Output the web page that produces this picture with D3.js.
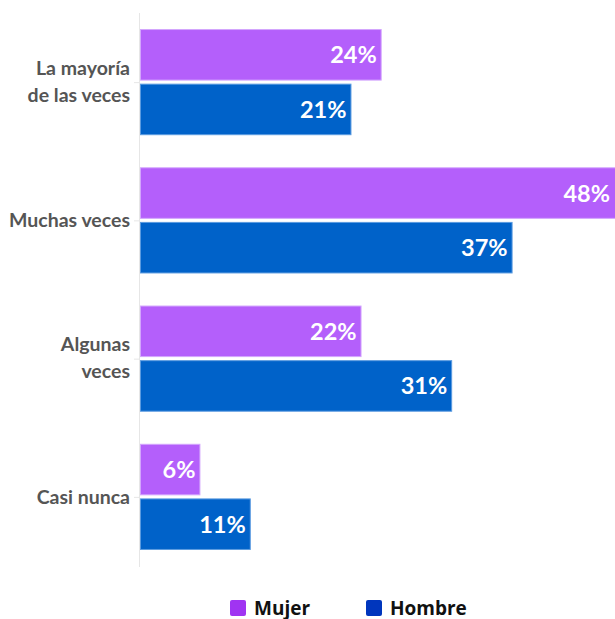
<!DOCTYPE html>
<html>
<head>
<meta charset="utf-8">
<script src="https://cdn.jsdelivr.net/npm/d3@7"></script>
<style>
  body { margin: 0; background: #fff; }
  svg { display: block; }
</style>
</head>
<body>
<div id="chart"></div>
<script>
    // chart data
    var categories = [['La mayoría', 'de las veces'], ['Muchas veces'], ['Algunas', 'veces'], ['Casi nunca']];
    var seriesNames = ['Mujer', 'Hombre'];
    var mujer = [24, 48, 22, 6];
    var hombre = [21, 37, 31, 11];
    var barColors = ['#b45ffb', '#0062c9'];
    var legendColors = ['#a034f2', '#0036bd'];

    var width = 615, height = 619;
    var left = 140;

    var svg = d3.select('#chart')
        .append('svg')
        .attr('width', width)
        .attr('height', height);

    var y = d3.scaleBand()
        .domain(d3.range(categories.length))
        .range([13, 566])
        .paddingInner(0.232)
        .paddingOuter(0.116);

    var ySub = d3.scaleBand()
        .domain(seriesNames)
        .range([0, y.bandwidth()])
        .paddingInner(0.056);

    var x = d3.scaleLinear()
        .domain([0, 1])
        .range([left, left + 10.07]);

    // axis line
    svg.append('line')
        .attr('x1', 139.5).attr('x2', 139.5)
        .attr('y1', 13).attr('y2', 567)
        .attr('stroke', '#e6e6e6')
        .attr('stroke-width', 1);

    // small ticks at category centers
    svg.selectAll('.tick')
        .data(categories)
        .enter()
        .append('line')
        .attr('x1', 134).attr('x2', 139)
        .attr('y1', function (d, i) { return y(i) + y.bandwidth() / 2 + 0.5; })
        .attr('y2', function (d, i) { return y(i) + y.bandwidth() / 2 + 0.5; })
        .attr('stroke', '#e6e6e6');

    var rows = [];
    categories.forEach(function (c, i) {
        rows.push({ cat: i, s: 0, v: mujer[i] });
        rows.push({ cat: i, s: 1, v: hombre[i] });
    });

    var bars = svg.selectAll('.bar')
        .data(rows)
        .enter()
        .append('g')
        .attr('class', 'bar');

    bars.append('rect')
        .attr('x', x(0) + 0.5)
        .attr('y', function (d) { return y(d.cat) + ySub(seriesNames[d.s]) + 0.5; })
        .attr('width', function (d) { return x(d.v) - x(0) - 1; })
        .attr('height', ySub.bandwidth() - 1)
        .attr('fill', function (d) { return barColors[d.s]; })
        .attr('stroke', function (d) { return d.s === 0 ? '#d3a6fd' : '#5b9be0'; })
        .attr('stroke-width', 1);

    bars.append('text')
        .attr('x', function (d) { return Math.min(x(d.v), width) - 5; })
        .attr('y', function (d) { return y(d.cat) + ySub(seriesNames[d.s]) + ySub.bandwidth() / 2; })
        .attr('dy', '0.36em')
        .attr('text-anchor', 'end')
        .attr('fill', '#fff')
        .attr('font-family', 'Lato, sans-serif')
        .attr('font-weight', 'bold')
        .attr('font-size', '23.5px')
        .text(function (d) { return d.v + '%'; });

    // category labels
    var labels = svg.selectAll('.cat')
        .data(categories)
        .enter()
        .append('text')
        .attr('class', 'cat')
        .attr('text-anchor', 'end')
        .attr('fill', '#555')
        .attr('font-family', 'Lato, sans-serif')
        .attr('font-weight', 'bold')
        .attr('font-size', '19.5px')
        .attr('transform', function (d, i) {
            var cy = y(i) + y.bandwidth() / 2;
            return 'translate(130,' + (cy - (d.length - 1) * 14) + ')';
        });

    labels.selectAll('tspan')
        .data(function (d) { return d; })
        .enter()
        .append('tspan')
        .attr('x', 0)
        .attr('dy', function (d, i) { return i === 0 ? '0.35em' : '27px'; })
        .text(function (d) { return d; });

    // legend
    var legendX = [230, 366];
    var legend = svg.selectAll('.legend')
        .data(seriesNames)
        .enter()
        .append('g')
        .attr('class', 'legend')
        .attr('transform', function (d, i) { return 'translate(' + legendX[i] + ',600)'; });

    legend.append('rect')
        .attr('width', 16).attr('height', 16)
        .attr('rx', 2)
        .attr('fill', function (d, i) { return legendColors[i]; });

    legend.append('text')
        .attr('x', 24)
        .attr('y', 8)
        .attr('dy', '0.36em')
        .attr('fill', '#111')
        .attr('font-family', '"Open Sans", sans-serif')
        .attr('font-weight', 'bold')
        .attr('font-size', '19px')
        .text(function (d) { return d; });
</script>
</body>
</html>
